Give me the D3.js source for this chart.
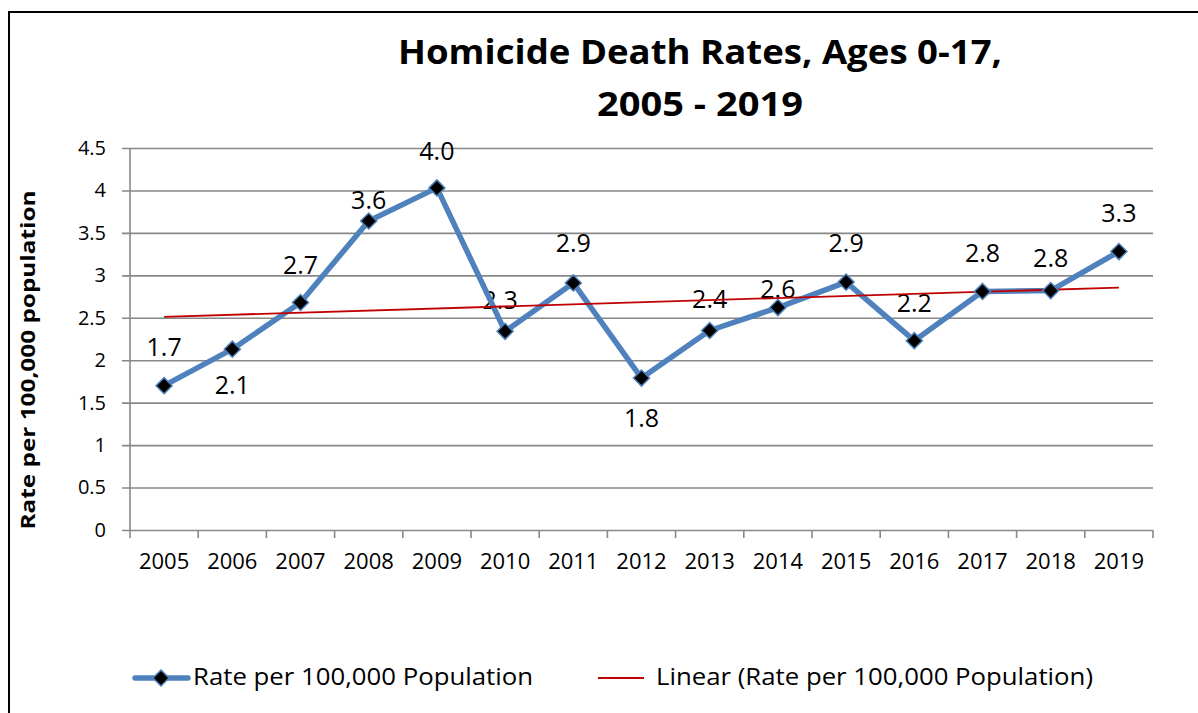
<!DOCTYPE html>
<html>
<head>
<meta charset="utf-8">
<script src="https://cdn.jsdelivr.net/npm/d3@7"></script>
<style>
    body { margin: 0; background: #fff; }
    text { font-family: "Open Sans", Lato, sans-serif; fill: #000; }
</style>
</head>
<body>
<script>
const years = ['2005', '2006', '2007', '2008', '2009', '2010', '2011', '2012',
    '2013', '2014', '2015', '2016', '2017', '2018', '2019'];
const rates = [1.70, 2.13, 2.68, 3.64, 4.03, 2.34, 2.91, 1.79, 2.35, 2.62, 2.92, 2.23, 2.81, 2.82, 3.28];
const rateLabels = ['1.7', '2.1', '2.7', '3.6', '4.0', '2.3', '2.9', '1.8', '2.4', '2.6', '2.9', '2.2', '2.8', '2.8', '3.3'];
const yTicks = [0, 0.5, 1, 1.5, 2, 2.5, 3, 3.5, 4, 4.5];

// label offsets (pixels from the point), as placed in the original
const labelDx = [0, 0, 0, 0, 0, -5, 0, 0, 0, 0, 0, 0, 0, 0, 0];
const labelDy = [-39, 36, -37, -21, -37, -31, -40, 40, -32, -19, -39, -38, -38, -33, -39];

const width = 1198, height = 713;
const plotLeft = 130, plotRight = 1153, plotTop = 148, plotBottom = 530;

const svg = d3.select('body')
    .append('svg')
    .attr('width', width)
    .attr('height', height);

// chart frame
svg.append('rect')
    .attr('x', 9).attr('y', 12)
    .attr('width', width + 20).attr('height', height + 20)
    .attr('fill', 'none')
    .attr('stroke', '#000')
    .attr('stroke-width', 2);

const x = d3.scalePoint()
    .domain(years)
    .range([plotLeft, plotRight])
    .padding(0.5);

const y = d3.scaleLinear()
    .domain([0, 4.5])
    .range([plotBottom, plotTop]);

// gridlines + y axis
const yAxis = d3.axisLeft(y)
    .tickValues(yTicks)
    .tickFormat(d3.format('~g'))
    .tickSize(-(plotRight - plotLeft + 8));

const yg = svg.append('g')
    .attr('transform', 'translate(' + (plotLeft - 8) + ',0)')
    .call(yAxis);
yg.select('.domain').remove();
yg.selectAll('line')
    .attr('stroke', '#888')
    .attr('stroke-width', 1.6);
yg.selectAll('text')
    .attr('x', -16)
    .style('font-size', '20px');

svg.append('line')
    .attr('x1', plotLeft).attr('x2', plotLeft)
    .attr('y1', plotTop).attr('y2', plotBottom)
    .attr('stroke', '#888')
    .attr('stroke-width', 1.6);

// x axis: ticks between categories
const step = x.step();
const xg = svg.append('g').attr('class', 'x axis');
xg.selectAll('line')
    .data(d3.range(years.length + 1))
    .enter()
    .append('line')
    .attr('x1', function(i) { return plotLeft + i * step; })
    .attr('x2', function(i) { return plotLeft + i * step; })
    .attr('y1', plotBottom)
    .attr('y2', plotBottom + 8)
    .attr('stroke', '#888')
    .attr('stroke-width', 1.6);
xg.selectAll('text')
    .data(years)
    .enter()
    .append('text')
    .attr('x', function(d) { return x(d); })
    .attr('y', 569)
    .attr('text-anchor', 'middle')
    .style('font-size', '22px')
    .text(function(d) { return d; });

// data labels (drawn under the lines, as in the original)
svg.append('g')
    .selectAll('text')
    .data(years)
    .enter()
    .append('text')
    .attr('x', function(d, i) { return x(d) + labelDx[i]; })
    .attr('y', function(d, i) { return y(rates[i]) + labelDy[i]; })
    .attr('dy', '0.36em')
    .attr('text-anchor', 'middle')
    .style('font-size', '25px')
    .style('font-weight', 500)
    .text(function(d, i) { return rateLabels[i]; });

// series line
const line = d3.line()
    .x(function(d, i) { return x(years[i]); })
    .y(function(d) { return y(d); });

svg.append('path')
    .datum(rates)
    .attr('d', line)
    .attr('fill', 'none')
    .attr('stroke', '#4f81bd')
    .attr('stroke-width', 5.5)
    .attr('stroke-linejoin', 'round');

// linear trend (least squares fit over the series)
const idx = d3.range(rates.length);
const mx = d3.mean(idx), my = d3.mean(rates);
const slope = d3.sum(idx, function(i) { return (i - mx) * (rates[i] - my); }) /
    d3.sum(idx, function(i) { return (i - mx) * (i - mx); });
const intercept = my - slope * mx;

svg.append('line')
    .attr('x1', x(years[0]))
    .attr('y1', y(intercept))
    .attr('x2', x(years[years.length - 1]))
    .attr('y2', y(intercept + slope * (years.length - 1)))
    .attr('stroke', '#c00000')
    .attr('stroke-width', 1.8);

// markers
const diamond = d3.symbol().type(d3.symbolDiamond2).size(165);
svg.append('g')
    .selectAll('path')
    .data(rates)
    .enter()
    .append('path')
    .attr('d', diamond)
    .attr('transform', function(d, i) {
        return 'translate(' + x(years[i]) + ',' + y(d) + ')';
    })
    .attr('fill', '#000')
    .attr('stroke', '#4f81bd')
    .attr('stroke-width', 1.5);

// title
const title = svg.append('text')
    .attr('text-anchor', 'middle')
    .style('font-size', '34px')
    .style('font-weight', 'bold');
title.append('tspan').attr('x', 700).attr('y', 64)
    .attr('textLength', 604).attr('lengthAdjust', 'spacingAndGlyphs')
    .text('Homicide Death Rates, Ages 0-17,');
title.append('tspan').attr('x', 700).attr('y', 116)
    .attr('textLength', 206).attr('lengthAdjust', 'spacingAndGlyphs')
    .text('2005 - 2019');

// y axis title
svg.append('text')
    .attr('transform', 'translate(35,360) rotate(-90)')
    .attr('text-anchor', 'middle')
    .attr('textLength', 339)
    .attr('lengthAdjust', 'spacingAndGlyphs')
    .style('font-size', '19px')
    .style('font-weight', 'bold')
    .text('Rate per 100,000 population');

// legend
const lg = svg.append('g');
lg.append('line')
    .attr('x1', 135).attr('x2', 188)
    .attr('y1', 678).attr('y2', 678)
    .attr('stroke', '#4f81bd')
    .attr('stroke-width', 5.5)
    .attr('stroke-linecap', 'round');
lg.append('path')
    .attr('d', diamond)
    .attr('transform', 'translate(161,678)')
    .attr('fill', '#000')
    .attr('stroke', '#4f81bd')
    .attr('stroke-width', 1.5);
lg.append('text')
    .attr('x', 193).attr('y', 685)
    .attr('textLength', 340).attr('lengthAdjust', 'spacingAndGlyphs')
    .style('font-size', '24px')
    .text('Rate per 100,000 Population');

lg.append('line')
    .attr('x1', 598).attr('x2', 644)
    .attr('y1', 678).attr('y2', 678)
    .attr('stroke', '#c00000')
    .attr('stroke-width', 1.8);
lg.append('text')
    .attr('x', 656).attr('y', 685)
    .attr('textLength', 437).attr('lengthAdjust', 'spacingAndGlyphs')
    .style('font-size', '24px')
    .text('Linear (Rate per 100,000 Population)');
</script>
</body>
</html>
